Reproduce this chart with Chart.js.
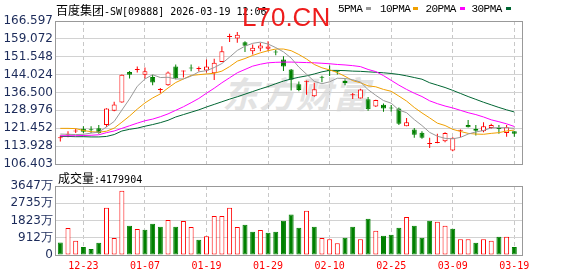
<!DOCTYPE html>
<html>
<head>
<meta charset="utf-8">
<title>百度集团-SW 日K</title>
<script src="https://cdn.jsdelivr.net/npm/chart.js@4.4.1/dist/chart.umd.min.js"></script>
<style>
  body { margin: 0; width: 578px; height: 276px; background: #fff; position: relative; overflow: hidden; }
  canvas { position: absolute; left: 0; }
  .abs { position: absolute; white-space: nowrap; }
  .cn { font: 12px "Noto Sans CJK SC"; }
  .mono { font: 10px "DejaVu Sans Mono"; }
  #wm { left: 222px; top: 66px; font: italic bold 36px "Noto Sans CJK SC"; color: #e3e3e3; letter-spacing: 1px; }
  #title { left: 56px; top: 1px; line-height: 14px; color: #000; }
  #stamp { left: 242px; top: 4px; font: 26px/26px "Liberation Sans"; color: #ee1c1c; }
  #vlab { left: 58px; top: 169px; line-height: 14px; color: #000; }
  .lg { position: absolute; top: 3px; font: 11px "Liberation Mono"; letter-spacing: -0.55px; color: #000; }
  .sw { position: absolute; top: 7px; width: 5px; height: 3px; }
</style>
</head>
<body>
<div id="wm" class="abs">东方财富</div>
<canvas id="k" width="578" height="176" style="top:0"></canvas>
<canvas id="v" width="578" height="100" style="top:176px"></canvas>
<div id="title" class="abs"><span class="cn">百度集团</span><span class="mono">-SW[09888] 2026-03-19 12:06</span></div>
<div id="legend"></div>
<div id="stamp" class="abs">L70.CN</div>
<div id="vlab" class="abs"><span class="cn">成交量</span><span class="mono">:4179904</span></div>
<script>
// daily bars, 12-18 .. 03-19
const dates = ['12-18','12-19','12-22','12-23','12-24','12-29','12-30','12-31','01-02','01-05',
  '01-06','01-07','01-08','01-09','01-12','01-13','01-14','01-15','01-16','01-19',
  '01-20','01-21','01-22','01-23','01-26','01-27','01-28','01-29','01-30','02-02',
  '02-03','02-04','02-05','02-06','02-09','02-10','02-11','02-12','02-13','02-16',
  '02-20','02-23','02-24','02-25','02-26','02-27','03-02','03-03','03-04','03-05',
  '03-06','03-09','03-10','03-11','03-12','03-13','03-16','03-17','03-18','03-19'];

const open = [117.2,118.7,120.1,121.2,120.7,121.5,122.8,128.8,132.3,145.1,
  146.0,144.0,143.0,137.5,139.6,147.4,145.3,146.7,146.4,145.8,
  144.6,149.3,159.9,159.2,157.7,153.9,155.0,154.9,153.4,150.4,
  146.2,140.0,141.0,134.9,142.8,145.7,145.3,141.3,135.3,134.0,
  133.7,130.6,131.3,129.9,129.8,122.3,120.9,119.6,114.8,115.2,
  116.0,112.1,120.4,122.8,121.2,120.2,121.6,121.2,119.4,120.2];
const close = [117.3,118.8,120.2,120.0,120.6,119.5,129.8,131.5,144.0,144.0,
  146.1,145.4,140.7,137.6,144.9,142.5,145.4,146.6,146.5,147.4,
  149.0,153.9,160.0,160.8,156.2,155.3,156.3,155.9,153.3,147.4,
  141.9,137.5,141.1,137.9,142.7,145.6,145.2,140.5,135.4,137.8,
  129.4,133.3,129.8,129.8,123.3,124.0,118.7,117.4,114.9,115.7,
  119.4,117.4,120.5,121.9,120.4,122.3,122.8,121.1,121.9,119.1];
const high = [118.4,120.2,121.2,122.3,122.3,122.8,129.9,132.6,144.1,145.5,
  147.4,147.0,144.0,138.4,145.3,148.3,145.8,148.3,147.4,150.4,
  150.7,156.0,161.2,162.0,158.1,156.7,157.4,158.1,154.5,151.8,
  146.4,141.1,141.6,140.6,143.6,147.9,145.8,142.1,136.3,138.1,
  134.6,133.5,131.9,131.2,130.2,125.8,121.6,120.2,117.4,119.1,
  119.8,117.7,120.9,124.9,122.8,124.0,123.3,122.8,122.8,120.2];
const low = [115.9,117.7,119.4,119.5,119.5,119.1,122.0,128.6,132.2,142.4,
  144.9,142.4,139.6,136.2,139.3,142.1,142.8,145.4,145.3,144.9,
  141.8,149.3,157.8,157.4,153.6,152.5,153.9,153.9,152.2,145.5,
  137.3,137.0,135.6,134.7,140.8,143.4,144.1,139.6,133.8,134.0,
  128.8,130.4,128.4,128.4,122.8,122.3,117.4,117.0,113.1,115.1,
  115.6,111.8,117.7,121.8,118.4,119.8,121.2,119.1,117.9,117.9];

// moving averages as drawn
const ma5 = [119.0,118.9,118.8,118.9,119.4,119.8,122.0,124.3,129.1,133.8,
  139.1,142.2,144.0,142.8,142.9,142.2,142.2,143.4,145.2,145.7,
  147.0,148.7,151.4,154.2,156.0,157.2,157.7,156.9,155.4,153.6,
  151.0,147.2,144.2,141.2,140.2,141.0,142.5,142.4,141.9,140.9,
  137.7,135.3,133.1,132.0,129.1,128.0,125.1,122.6,119.7,118.1,
  117.2,117.0,117.6,119.0,119.9,120.5,121.6,121.7,121.7,121.4];
const ma10 = [121.4,121.4,121.3,120.5,120.0,119.8,120.2,121.5,124.0,126.6,
  129.5,132.1,134.2,135.9,138.4,140.7,142.2,143.7,144.0,144.3,
  144.6,145.5,147.4,149.7,150.8,152.1,153.2,154.1,154.8,154.8,
  154.1,152.5,150.6,148.3,146.9,146.0,144.9,143.3,141.5,140.6,
  139.3,138.9,137.8,137.0,135.0,132.9,130.2,127.9,125.8,123.6,
  122.6,121.0,120.1,119.3,119.0,118.9,119.3,119.6,120.3,120.7];
const ma20 = [118.3,118.3,118.3,118.4,118.5,118.7,119.6,120.3,121.4,122.5,
  123.6,124.6,125.3,126.3,127.5,129.0,130.5,132.2,134.0,136.2,
  138.3,140.6,142.7,144.8,146.2,147.6,148.4,149.0,149.2,149.3,
  149.3,149.2,149.1,149.0,148.8,148.6,148.3,148.1,147.8,147.4,
  146.2,145.3,143.6,141.6,139.6,137.8,136.2,134.8,133.0,131.8,
  130.8,130.0,129.0,128.0,127.2,126.2,125.0,124.2,123.3,122.2];
const ma30 = [118.0,118.0,117.9,117.9,117.8,117.8,118.0,118.8,120.3,121.0,
  121.5,122.3,123.0,123.8,124.8,126.2,127.2,128.2,129.2,130.4,
  131.5,132.6,133.7,134.7,135.8,136.9,138.0,139.0,140.2,141.3,
  142.2,142.9,143.5,144.3,145.2,145.8,145.8,145.7,145.5,145.4,
  145.2,145.0,144.8,144.5,144.1,143.5,142.8,142.1,140.6,139.6,
  138.6,137.4,136.1,134.8,133.6,132.4,131.3,130.2,129.2,128.3];

// volume in 万 shares, 1 = red (up vs previous close)
const volume = [657,1426,748,427,320,641,2494,892,3402,1549,
  1372,1335,1655,1495,1853,1495,1800,1479,801,997,
  2067,2067,2494,1479,1602,1228,1319,1175,1228,1816,
  2136,1442,2334,1495,892,838,625,908,1495,838,
  1922,1282,1015,1068,1442,2013,1549,908,1816,1762,
  1549,1388,838,838,641,838,748,961,961,418];
const volUp = [0,1,1,0,0,0,1,1,1,0, 1,0,0,0,1,0,1,1,0,1,
  1,1,1,1,0,0,1,0,0,0, 0,0,1,0,1,1,1,0,0,1,
  0,1,0,0,0,1,0,0,0,1, 1,0,1,1,0,1,1,0,1,0];

const priceTicks = ['106.403','113.928','121.452','128.976','136.500','144.024','151.548','159.072','166.597'];
const volTicks = [0, 912, 1823, 2735, 3647];
const volLabels = ['0', '912万', '1823万', '2735万', '3647万'];
const dateTicks = [3, 11, 19, 27, 35, 43, 51, 59];

const maNames = ['5PMA', '10PMA', '20PMA', '30PMA'];
const maColors = ['#999999', '#f0a000', '#ff00ff', '#006633'];
const maSeries = [ma5, ma10, ma20, ma30];

const RED = '#ff0000', GREEN = '#008000';
const AXIS_W = 55, RIGHT_PAD = 56;

// legend row
const legendX = [[338, 365.5], [380, 413], [425.5, 460], [471.5, 505.5]];
document.getElementById('legend').innerHTML = maNames.map((n, i) =>
  `<span class="lg" style="left:${legendX[i][0]}px">${n}</span>` +
  `<span class="sw" style="left:${legendX[i][1]}px;background:${maColors[i]}"></span>`).join('');

const frame = {
  id: 'frame',
  afterDraw(chart) {
    const { ctx, chartArea: a } = chart;
    ctx.save();
    ctx.strokeStyle = '#999';
    ctx.lineWidth = 1;
    ctx.strokeRect(Math.round(a.left) + 0.5, Math.round(a.top) + 0.5,
      Math.round(a.right - a.left), Math.round(a.bottom - a.top));
    ctx.restore();
  }
};

const xScale = (labels) => ({
  type: 'linear', min: -0.69, max: 60.0, offset: false,
  afterBuildTicks: s => { s.ticks = dateTicks.map(v => ({ value: v })); },
  afterFit: s => { s.height = labels ? 21 : 0; },
  grid: { color: '#c8c8c8', drawTicks: false, offset: false },
  border: { display: false, dash: [4, 3] },
  ticks: {
    display: labels, autoSkip: false, maxRotation: 0, padding: 5, color: RED,
    font: { family: 'DejaVu Sans Mono', size: 10 },
    callback: v => dates[v]
  }
});

const yScale = (min, max, vals, labels) => ({
  min, max,
  afterBuildTicks: s => { s.ticks = vals.map(v => ({ value: v })); },
  afterFit: s => { s.width = AXIS_W; },
  grid: { color: '#d2d2d2', drawTicks: false },
  border: { display: false },
  ticks: {
    autoSkip: false, padding: 2, color: '#1c2b5a',
    font: { family: 'DejaVu Sans', size: 12 },
    callback: (v, i) => labels[i]
  }
});

const idx = dates.map((d, i) => i);
const up = idx.map(i => close[i] >= open[i]);

// K-line chart
new Chart(document.getElementById('k'), {
  type: 'line',
  data: {
    datasets: [
      ...maSeries.map((s, k) => ({
        type: 'line',
        data: s.map((y, i) => ({ x: i, y })),
        borderColor: maColors[k],
        borderWidth: 1,
        pointRadius: 0,
        tension: 0,
        order: 0
      })),
      {
        type: 'bar',
        data: idx.map(i => ({ x: i, y: [open[i], close[i]] })),
        backgroundColor: idx.map(i => up[i] ? '#ffffff' : GREEN),
        borderColor: idx.map(i => up[i] ? RED : GREEN),
        borderWidth: 1,
        borderSkipped: false,
        barThickness: 5,
        minBarLength: 1,
        grouped: false,
        inflateAmount: 0,
        order: 1
      },
      {
        type: 'bar',
        data: idx.map(i => ({ x: i, y: [low[i], high[i]] })),
        backgroundColor: idx.map(i => up[i] ? RED : GREEN),
        barThickness: 1,
        grouped: false,
        inflateAmount: 0,
        order: 2
      }
    ]
  },
  options: {
    responsive: false,
    animation: false,
    layout: { padding: { top: 21, right: RIGHT_PAD, bottom: 12, left: 0 } },
    plugins: { legend: { display: false }, tooltip: { enabled: false } },
    scales: {
      x: xScale(false),
      y: yScale(106.403, 166.597, priceTicks.map(Number), priceTicks)
    }
  },
  plugins: [frame]
});

// volume chart
new Chart(document.getElementById('v'), {
  type: 'bar',
  data: {
    datasets: [{
      data: idx.map(i => ({ x: i, y: volume[i] })),
      backgroundColor: idx.map(i => volUp[i] ? '#ffffff' : GREEN),
      borderColor: idx.map(i => volUp[i] ? RED : GREEN),
      borderWidth: 1,
      borderSkipped: false,
      barThickness: 5,
      grouped: false,
      inflateAmount: 0
    }]
  },
  options: {
    responsive: false,
    animation: false,
    layout: { padding: { top: 10, right: RIGHT_PAD, bottom: 0, left: 0 } },
    plugins: { legend: { display: false }, tooltip: { enabled: false } },
    scales: {
      x: xScale(true),
      y: yScale(0, 3647, volTicks, volLabels)
    }
  },
  plugins: [frame]
});
</script>
</body>
</html>
